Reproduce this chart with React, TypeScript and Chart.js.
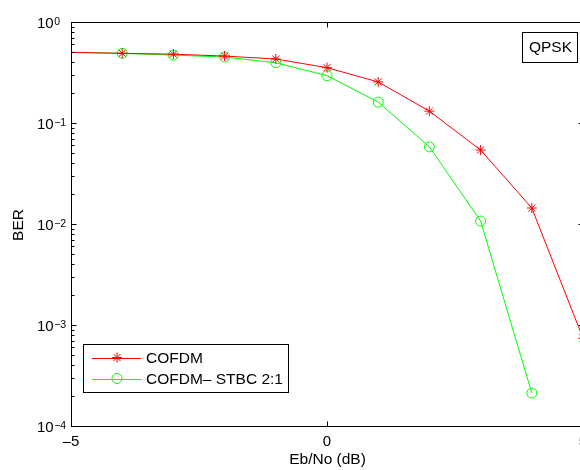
import React, { useEffect, useRef } from "react";
import { Chart, registerables } from "chart.js";

Chart.register(...registerables);

const ebNo = [-5, -4, -3, -2, -1, 0, 1, 2, 3, 4, 5];
const berCofdm = [0.5, 0.49, 0.48, 0.46, 0.43, 0.353, 0.255, 0.131, 0.054, 0.0144, 0.00074];
const berStbc = [0.5, 0.49, 0.47, 0.45, 0.395, 0.294, 0.161, 0.058, 0.0107, 0.000212, null];
const seriesNames = ["COFDM", "COFDM\u2013 STBC 2:1"];
const xTicks = [-5, 0, 5];
const xTickLabels = ["\u20135", "0", "5"];
const yDecades = [0, -1, -2, -3, -4];
const xTitle = "Eb/No (dB)";
const yTitle = "BER";
const boxText = "QPSK";

const FONT = '"Liberation Sans", Arial, Helvetica, sans-serif';

const decorPlugin = {
  id: "matlabDecor",
  afterDraw(chart: any) {
    const ctx: CanvasRenderingContext2D = chart.ctx;
    const ca = chart.chartArea;
    const xs = chart.scales.x;
    const ys = chart.scales.y;
    const L = Math.round(ca.left) + 0.5;
    const R = Math.round(ca.right) + 0.5;
    const T = Math.round(ca.top) + 0.5;
    const B = Math.round(ca.bottom) + 0.5;
    ctx.save();
    ctx.strokeStyle = "#000";
    ctx.lineWidth = 1;
    ctx.strokeRect(L, T, R - L, B - T);

    // y ticks
    ctx.beginPath();
    yDecades.forEach((e) => {
      const py = Math.round(ys.getPixelForValue(Math.pow(10, e))) + 0.5;
      ctx.moveTo(L, py); ctx.lineTo(L + 5, py);
      ctx.moveTo(R, py); ctx.lineTo(R - 5, py);
      if (e < 0) {
        for (let m = 2; m <= 9; m++) {
          const my = Math.round(ys.getPixelForValue(m * Math.pow(10, e))) + 0.5;
          ctx.moveTo(L, my); ctx.lineTo(L + 3, my);
          ctx.moveTo(R, my); ctx.lineTo(R - 3, my);
        }
      }
    });
    xTicks.forEach((v) => {
      const px = Math.round(xs.getPixelForValue(v)) + 0.5;
      ctx.moveTo(px, B); ctx.lineTo(px, B - 5);
      ctx.moveTo(px, T); ctx.lineTo(px, T + 5);
    });
    ctx.stroke();

    ctx.fillStyle = "#000";
    // y tick labels
    yDecades.forEach((e) => {
      const py = ys.getPixelForValue(Math.pow(10, e));
      ctx.font = `15px ${FONT}`;
      ctx.textAlign = "left";
      ctx.textBaseline = "alphabetic";
      const x0 = ca.left - 34;
      ctx.fillText("10", x0, py + 6);
      const w = ctx.measureText("10").width;
      ctx.font = `10.5px ${FONT}`;
      ctx.fillText(e === 0 ? "0" : "\u2212" + String(-e), x0 + w + 0.5, py + 2.5);
    });
    // x tick labels
    ctx.font = `15px ${FONT}`;
    ctx.textAlign = "center";
    ctx.textBaseline = "alphabetic";
    xTicks.forEach((v, i) => {
      ctx.fillText(xTickLabels[i], xs.getPixelForValue(v), ca.bottom + 19.5);
    });
    // axis titles
    ctx.font = `15.5px ${FONT}`;
    ctx.fillText(xTitle, (ca.left + ca.right) / 2 + 0.5, ca.bottom + 38);
    ctx.save();
    ctx.translate(ca.left - 52, (ca.top + ca.bottom) / 2 + 1);
    ctx.rotate(-Math.PI / 2);
    ctx.textBaseline = "middle";
    ctx.fillText(yTitle, 0, 0);
    ctx.restore();

    // QPSK box
    const qx = ca.right - 61, qy = ca.top + 10, qw = 55, qh = 30;
    ctx.fillStyle = "#fff";
    ctx.fillRect(qx, qy, qw, qh);
    ctx.strokeStyle = "#000";
    ctx.strokeRect(Math.round(qx) + 0.5, Math.round(qy) + 0.5, qw, qh);
    ctx.fillStyle = "#000";
    ctx.font = `15.5px ${FONT}`;
    ctx.textAlign = "center";
    ctx.textBaseline = "middle";
    ctx.fillText(boxText, qx + qw / 2 + 1, qy + qh / 2 + 1);

    // legend
    const lx = ca.left + 12, ly = ca.top + 322, lw = 205, lh = 48;
    ctx.fillStyle = "#fff";
    ctx.fillRect(lx, ly, lw, lh);
    ctx.strokeRect(Math.round(lx) + 0.5, Math.round(ly) + 0.5, lw, lh);
    chart.data.datasets.forEach((ds: any, i: number) => {
      const cy = ly + 13.5 + i * 21;
      ctx.strokeStyle = ds.borderColor;
      ctx.lineWidth = 1;
      ctx.beginPath();
      ctx.moveTo(lx + 9, Math.round(cy) + 0.5);
      ctx.lineTo(lx + 58, Math.round(cy) + 0.5);
      ctx.stroke();
      ctx.beginPath();
      if (ds.pointStyle === "circle") {
        ctx.arc(lx + 34, cy, 5, 0, Math.PI * 2);
      } else {
        for (let k = 0; k < 4; k++) {
          const a = (k * Math.PI) / 4;
          ctx.moveTo(lx + 34 - 5 * Math.cos(a), cy - 5 * Math.sin(a));
          ctx.lineTo(lx + 34 + 5 * Math.cos(a), cy + 5 * Math.sin(a));
        }
      }
      ctx.stroke();
      ctx.fillStyle = "#000";
      ctx.font = `15.5px ${FONT}`;
      ctx.textAlign = "left";
      ctx.textBaseline = "middle";
      ctx.fillText(ds.label, lx + 63, cy + 1);
    });
    ctx.restore();
  },
};

export default function App() {
  const ref = useRef<HTMLCanvasElement | null>(null);
  useEffect(() => {
    document.body.style.margin = "0";
    document.body.style.overflow = "hidden";
    if (!ref.current) return;
    const pointR = ebNo.map((_, i) => (i === 0 ? 0 : 5));
    const chart = new Chart(ref.current, {
      type: "line",
      data: {
        labels: ebNo,
        datasets: [
          {
            label: seriesNames[0],
            data: ebNo.map((x, i) => ({ x, y: berCofdm[i] })),
            borderColor: "#ff0000",
            backgroundColor: "#ff0000",
            pointStyle: "star",
            pointRadius: pointR,
            pointBorderColor: "#ff0000",
            pointBorderWidth: 1,
            borderWidth: 1,
            tension: 0,
          },
          {
            label: seriesNames[1],
            data: ebNo
              .map((x, i) => ({ x, y: berStbc[i] }))
              .filter((p) => p.y !== null) as any,
            borderColor: "#00ff00",
            backgroundColor: "rgba(0,0,0,0)",
            pointStyle: "circle",
            pointRadius: pointR,
            pointBackgroundColor: "rgba(0,0,0,0)",
            pointBorderColor: "#00ff00",
            pointBorderWidth: 1,
            borderWidth: 1,
            tension: 0,
          },
        ],
      },
      options: {
        responsive: false,
        animation: false,
        layout: { padding: { left: 71, top: 22, right: 17, bottom: 44 } },
        plugins: { legend: { display: false }, tooltip: { enabled: false }, title: { display: false } },
        scales: {
          x: { type: "linear", min: -5, max: 5, display: false },
          y: { type: "logarithmic", min: 1e-4, max: 1, display: false },
        },
      },
      plugins: [decorPlugin],
    });
    return () => chart.destroy();
  }, []);
  return (
    <div style={{ position: "absolute", left: 0, top: 0, width: 600, height: 470, background: "#fff" }}>
      <canvas ref={ref} width={600} height={470} style={{ width: 600, height: 470 }} />
    </div>
  );
}
